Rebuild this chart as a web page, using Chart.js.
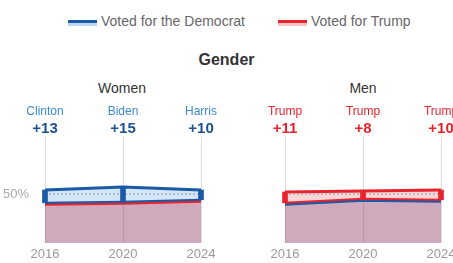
<!DOCTYPE html>
<html>
<head>
<meta charset="utf-8">
<script src="https://cdn.jsdelivr.net/npm/chart.js@4"></script>
<style>
  body { margin: 0; width: 453px; height: 263px; overflow: hidden; background: #fff; position: relative; font-family: "Liberation Sans", Arial, sans-serif; }
  .lg { position: absolute; top: 13px; font-size: 14px; color: #666; }
  .sw { position: absolute; top: 20px; width: 29px; height: 3px; }
  .sw span { position: absolute; left: 0; top: 3px; width: 29px; height: 3px; }
  .ttl { position: absolute; color: #333; text-align: center; }
  canvas { position: absolute; top: 95px; }
</style>
</head>
<body>
<div class="sw" style="left:68px;background:#1a5aa6"><span style="background:#bcd8f2"></span></div>
<div class="lg" style="left:101px">Voted for the Democrat</div>
<div class="sw" style="left:278px;background:#e8232b"><span style="background:#f7c5c8"></span></div>
<div class="lg" style="left:311px">Voted for Trump</div>
<div class="ttl" style="left:0;width:453px;top:51px;font-size:16px;font-weight:bold">Gender</div>
<div class="ttl" style="left:72px;width:100px;top:80px;font-size:14px">Women</div>
<div class="ttl" style="left:313px;width:100px;top:80px;font-size:14px">Men</div>
<canvas id="women" width="230" height="168" style="left:0"></canvas>
<canvas id="men" width="223" height="168" style="left:230px"></canvas>
<script>
const years = ['2016', '2020', '2024'];
const womenDem = [54, 57, 54];
const womenTrump = [41, 42, 44];
const womenNames = ['Clinton', 'Biden', 'Harris'];
const menTrump = [52, 53, 54];
const menDem = [41, 45, 44];
const menNames = ['Trump', 'Trump', 'Trump'];
const fifty = [50, 50, 50];

const BLUE = '#1a5aa6';
const RED = '#e8232b';

const topLabels = {
  id: 'topLabels',
  afterDraw(chart, args, opts) {
    const { ctx, chartArea } = chart;
    const x = chart.scales.x;
    ctx.save();
    ctx.textAlign = 'center';
    ctx.textBaseline = 'middle';
    opts.names.forEach((n, i) => {
      const px = x.getPixelForValue(i);
      ctx.font = '12px "Liberation Sans", Arial, sans-serif';
      ctx.fillStyle = opts.nameColor;
      ctx.fillText(n, px, chartArea.top - 25);
      ctx.font = 'bold 15px "Liberation Sans", Arial, sans-serif';
      ctx.fillStyle = opts.marginColor;
      ctx.fillText('+' + opts.margins[i], px, chartArea.top - 8);
    });
    ctx.restore();
  }
};

const makeChart = (id, upper, lower, names, main, other, light, showY, padLeft, padRight) => {
  const ctx = document.getElementById(id).getContext('2d');
  return new Chart(ctx, {
    type: 'line',
    data: {
      labels: years,
      datasets: [
        {
          data: lower,
          borderColor: other,
          borderWidth: 6,
          pointRadius: 0,
          fill: 'origin',
          backgroundColor: 'rgba(140,40,90,0.4)',
          order: 5,
        },
        {
          data: upper,
          borderColor: main,
          borderWidth: 3,
          pointRadius: 0,
          fill: '-1',
          backgroundColor: light,
          order: 4,
        },
        {
          data: lower,
          borderColor: main,
          borderWidth: 2,
          pointRadius: 0,
          fill: false,
          order: 3,
        },
        {
          data: fifty,
          borderColor: '#a8b0bc',
          borderWidth: 1.5,
          borderDash: [2, 2],
          pointRadius: 0,
          fill: false,
          order: 2,
        },
        {
          type: 'bar',
          data: upper.map((u, i) => [lower[i], u]),
          backgroundColor: main,
          barThickness: 5,
          clip: false,
          order: 1,
        },
      ],
    },
    options: {
      responsive: false,
      animation: false,
      layout: { padding: { top: 42, left: padLeft, right: padRight, bottom: 0 } },
      plugins: {
        legend: { display: false },
        tooltip: { enabled: false },
        topLabels: {
          names,
          margins: upper.map((u, i) => u - lower[i]),
          nameColor: main === BLUE ? '#3b8ad6' : RED,
          marginColor: main === BLUE ? '#1d4f91' : RED,
        },
      },
      scales: {
        x: {
          offset: false,
          grid: { color: '#dcdcdc', drawTicks: false, offset: false },
          border: { display: false },
          ticks: { color: '#999', font: { size: 13, family: '"Liberation Sans", Arial' }, padding: 4, maxRotation: 0 },
          afterFit: (s) => { s.height = 20; s.paddingLeft = 0; s.paddingRight = 0; },
        },
        y: {
          display: showY,
          min: 0,
          max: 108,
          grid: { display: false },
          border: { display: false },
          afterBuildTicks: (s) => { s.ticks = [{ value: 50 }]; },
          ticks: { color: '#aaa', font: { size: 13, family: '"Liberation Sans", Arial' }, padding: 8, callback: (v) => v + '%' },
          afterFit: (s) => { s.width = showY ? 45 : 0; },
        },
      },
    },
    plugins: [topLabels],
  });
};

makeChart('women', womenDem, womenTrump, womenNames, BLUE, RED, '#d3e5f7', true, 0, 29);
makeChart('men', menTrump, menDem, menNames, RED, BLUE, '#fad6d9', false, 55, 12);
</script>
</body>
</html>
